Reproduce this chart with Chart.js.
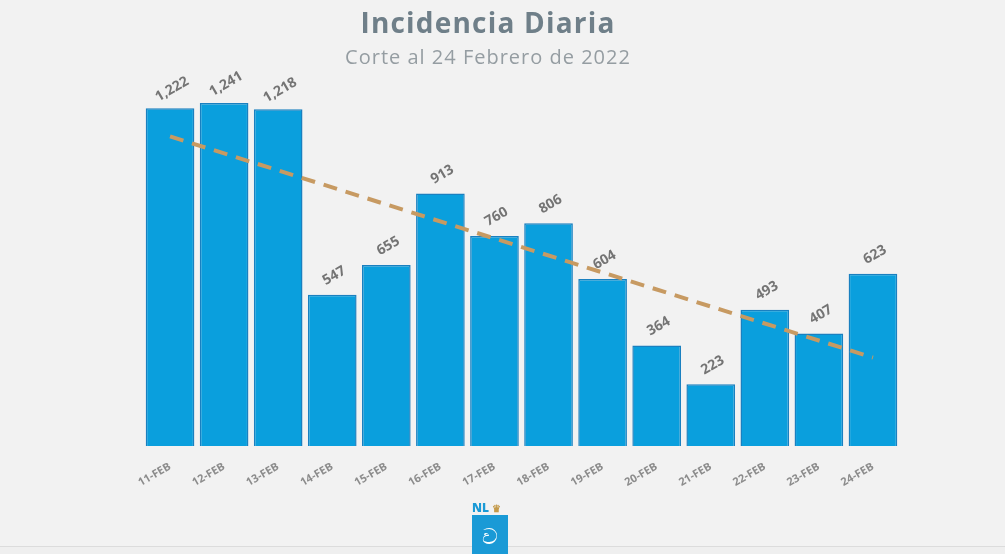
<!DOCTYPE html>
<html>
<head>
<meta charset="utf-8">
<script src="https://cdn.jsdelivr.net/npm/chart.js@4/dist/chart.umd.min.js"></script>
<style>
  html, body { margin:0; padding:0; background:#f2f2f2; }
  #wrap { position:relative; width:1005px; height:554px; overflow:hidden; font-family:"Open Sans", sans-serif; }
  #title { position:absolute; top:3px; left:0; width:976px; text-align:center; font-size:28px; font-weight:700; letter-spacing:1.2px; color:#6f7f89; }
  #subtitle { position:absolute; top:43px; left:0; width:976px; text-align:center; font-size:20px; letter-spacing:1px; color:#959da2; }
  #chartBox { position:absolute; left:0; top:0; width:1005px; height:554px; }
  #logo { position:absolute; left:472px; top:502px; width:38px; }
  #logo .nl { font-size:12px; font-weight:800; color:#1a9ad6; line-height:12px; }
  #logo .nl span { color:#c49a4a; font-size:10px; }
  #logo .box { width:36px; height:42px; background:#1a9ad6; margin-top:1px; color:#fff; text-align:center; font-size:22px; line-height:40px; }
  #bottomLine { position:absolute; left:0; top:546px; width:1005px; height:8px; border-top:1px solid #dcdcdc; background:#efefef; }
</style>
</head>
<body>
<div id="wrap">
  <div id="bottomLine"></div>
  <div id="chartBox"><canvas id="chart"></canvas></div>
  <div id="title">Incidencia Diaria</div>
  <div id="subtitle">Corte al 24 Febrero de 2022</div>
  <div id="logo"><div class="nl">NL <span>♛</span></div><div class="box">ව</div></div>
</div>
<script>
// daily cases, 11-24 feb
const days = ['11-FEB','12-FEB','13-FEB','14-FEB','15-FEB','16-FEB','17-FEB',
              '18-FEB','19-FEB','20-FEB','21-FEB','22-FEB','23-FEB','24-FEB'];
const cases = [1222, 1241, 1218, 547, 655, 913, 760, 806, 604, 364, 223, 493, 407, 623];
// dashed trend, only ends
const trend = [1120, null, null, null, null, null, null, null, null, null, null, null, null, 320];

// draws the rotated value over each bar
const barLabels = {
  id: 'barLabels',
  afterDatasetsDraw(chart) {
    const ctx = chart.ctx;
    const meta = chart.getDatasetMeta(1);
    ctx.save();
    ctx.font = 'bold 14px "Open Sans", sans-serif';
    ctx.fillStyle = '#747474';
    ctx.textAlign = 'center';
    ctx.textBaseline = 'middle';
    meta.data.forEach((bar, i) => {
      ctx.save();
      ctx.translate(bar.x + 2, bar.y - 19);
      ctx.rotate(-30 * Math.PI / 180);
      ctx.fillText(cases[i].toLocaleString('en-US'), 0, 0);
      ctx.restore();
    });
    ctx.restore();
  }
};

new Chart(document.getElementById('chart'), {
  data: {
    labels: days,
    datasets: [
      {
        type: 'line',
        data: trend,
        spanGaps: true,
        borderColor: '#c79a62',
        borderWidth: 4,
        borderDash: [14, 9],
        pointRadius: 0,
        order: 0
      },
      {
        type: 'bar',
        data: cases,
        backgroundColor: '#0a9fdd',
        borderColor: '#1a80c0',
        borderWidth: 1.5,
        categoryPercentage: 1,
        barPercentage: 0.9,
        order: 1
      }
    ]
  },
  options: {
    responsive: true,
    maintainAspectRatio: false,
    animation: false,
    layout: { padding: { left: 143, right: 105, top: 59, bottom: 48 } },
    plugins: { legend: { display: false }, tooltip: { enabled: false } },
    scales: {
      x: {
        grid: { display: false },
        border: { display: false },
        ticks: {
          color: '#8c8c8c',
          font: { size: 11, weight: 'bold', family: '"Open Sans", sans-serif' },
          minRotation: 30, maxRotation: 30, padding: 6
        },
        afterFit: s => { s.height = 60; }
      },
      y: {
        display: false,
        min: 0, max: 1400
      }
    }
  },
  plugins: [barLabels]
});
</script>
</body>
</html>
